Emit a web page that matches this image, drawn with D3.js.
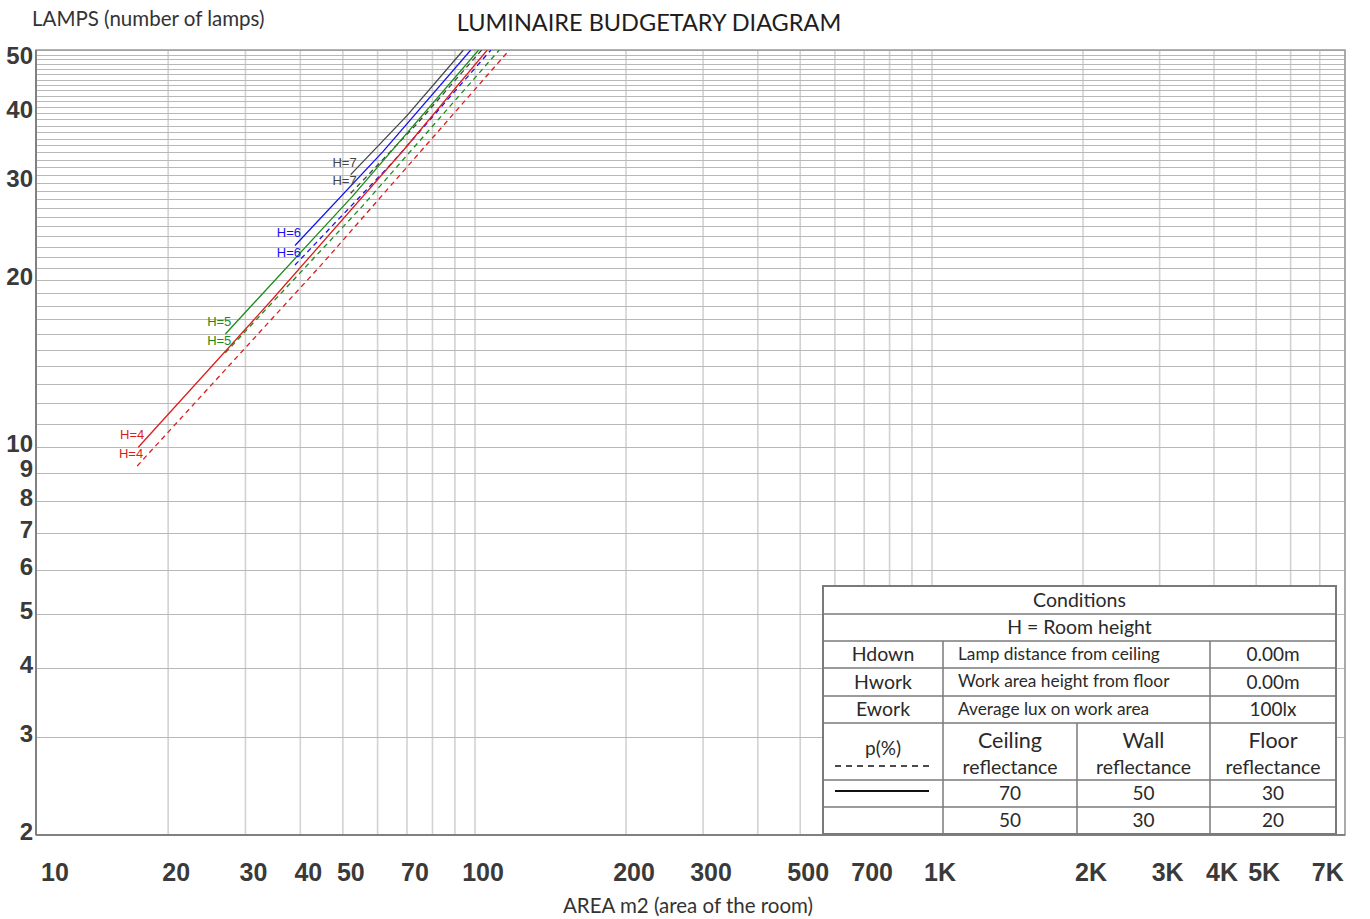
<!DOCTYPE html>
<html>
<head>
<meta charset="utf-8">
<script src="https://cdn.jsdelivr.net/npm/d3@7"></script>
<style>
  body { margin: 0; background: #fff; }
  svg { display: block; }
</style>
</head>
<body>
<div id="chart"></div>
<script>
// --- data ---
const roomHeights = ["H=7", "H=6", "H=5", "H=4"];

// solid = reflectance 70/50/30, dashed = 50/30/20 (area m2, lamps)
const areaSolid = [[52.1, 70.0, 94.1], [38.9, 61.7, 97.8], [27.0, 52.5, 101.7], [17.1, 34.4, 68.7, 105.8]];
const lampsSolid = [[31.0, 39.6, 52], [23.1, 34.1, 52], [16.0, 28.3, 52], [10.0, 18.4, 34.3, 52]];
const areaDashed = [[52.1, 73.6, 103.1], [38.9, 65.1, 107.6], [27.0, 55.4, 111.8], [17.0, 45.1, 117.1]];
const lampsDashed = [[28.7, 38.2, 52], [21.3, 32.7, 52], [14.8, 27.2, 52], [9.25, 21.5, 52]];

const lampTicks = [2, 3, 4, 5, 6, 7, 8, 9, 10, 20, 30, 40, 50];
const areaTicks = [10, 20, 30, 40, 50, 70, 100, 200, 300, 500, 700, 1000, 2000, 3000, 4000, 5000, 7000];
const areaTickText = ["10", "20", "30", "40", "50", "70", "100", "200", "300", "500", "700", "1K", "2K", "3K", "4K", "5K", "7K"];

const conditionRows = [
  ["Hdown", "Lamp distance from ceiling", "0.00m"],
  ["Hwork", "Work area height from floor", "0.00m"],
  ["Ework", "Average lux on work area", "100lx"]
];
const reflHeaders = ["Ceiling", "Wall", "Floor"];
const reflSolid = [70, 50, 30];
const reflDashed = [50, 30, 20];

// --- styles ---
const colors = ["#444444", "#1414f0", "#1a8c1a", "#dd1c1c"];
const W = 1370, H = 919;
const plotL = 36, plotR = 1345, plotT = 50, plotB = 835;

const svg = d3.select("#chart").append("svg")
  .attr("width", W).attr("height", H)
  .style("font-family", "Lato, 'Open Sans', sans-serif");

const x = d3.scaleLog()
  .domain([10, 100, 200, 1000, 2000, 8000])
  .range([plotL, 475, 626, 932, 1083, plotR]);
const y = d3.scaleLog()
  .domain([2, 52])
  .range([plotB, plotT]);

// grid
const xGrid = d3.range(10, 100, 10).concat(d3.range(100, 1000, 100), d3.range(1000, 8001, 1000));
const yGrid = d3.range(2, 53);

svg.append("g").selectAll("line").data(xGrid).join("line")
  .attr("x1", d => x(d)).attr("x2", d => x(d))
  .attr("y1", plotT).attr("y2", plotB)
  .attr("stroke", "#d2d2d2").attr("stroke-width", 1.6);

svg.append("g").selectAll("line").data(yGrid).join("line")
  .attr("x1", plotL).attr("x2", plotR)
  .attr("y1", d => Math.round(y(d)) + 0.5).attr("y2", d => Math.round(y(d)) + 0.5)
  .attr("stroke", "#b8b8b8").attr("stroke-width", 1);

// frame
svg.append("rect")
  .attr("x", plotL).attr("y", plotT)
  .attr("width", plotR - plotL).attr("height", plotB - plotT)
  .attr("fill", "none").attr("stroke", "#9a9a9a").attr("stroke-width", 1.5);
svg.append("line")
  .attr("x1", plotL).attr("x2", plotL).attr("y1", plotT).attr("y2", plotB)
  .attr("stroke", "#808080").attr("stroke-width", 2);
svg.append("line")
  .attr("x1", plotL).attr("x2", plotR).attr("y1", plotB).attr("y2", plotB)
  .attr("stroke", "#808080").attr("stroke-width", 2);

// y tick labels
svg.append("g").selectAll("text").data(lampTicks).join("text")
  .attr("x", 33).attr("y", d => y(d))
  .attr("dy", "0.2em")
  .attr("text-anchor", "end")
  .style("font-family", "'Liberation Sans', Arial, sans-serif")
  .style("font-weight", "bold").style("font-size", "24px")
  .attr("fill", "#3a3a3a")
  .text(d => d);

// x tick labels
svg.append("g").selectAll("text").data(areaTicks).join("text")
  .attr("x", d => Math.max(x(d) + 8, 55)).attr("y", 881)
  .attr("text-anchor", "middle")
  .style("font-family", "'Liberation Sans Narrow', 'Liberation Sans', Arial, sans-serif")
  .style("font-stretch", "condensed")
  .style("font-weight", "bold").style("font-size", "25px")
  .attr("fill", "#3a3a3a")
  .text((d, i) => areaTickText[i]);

// titles
svg.append("text").attr("x", 649).attr("y", 31)
  .attr("text-anchor", "middle").style("font-size", "23.5px").attr("fill", "#1e1e1e")
  .text("LUMINAIRE BUDGETARY DIAGRAM");
svg.append("text").attr("x", 32).attr("y", 26)
  .style("font-size", "20.5px").attr("fill", "#333")
  .text("LAMPS (number of lamps)");
svg.append("text").attr("x", 688).attr("y", 913)
  .attr("text-anchor", "middle").style("font-size", "20.5px").attr("fill", "#333")
  .text("AREA m2 (area of the room)");

// curves
svg.append("clipPath").attr("id", "plot")
  .append("rect").attr("x", plotL).attr("y", plotT)
  .attr("width", plotR - plotL).attr("height", plotB - plotT);

const line = d3.line().x(d => x(d[0])).y(d => y(d[1]));
const curves = svg.append("g").attr("clip-path", "url(#plot)");

roomHeights.forEach((h, i) => {
  const solid = d3.zip(areaSolid[i], lampsSolid[i]);
  const dashed = d3.zip(areaDashed[i], lampsDashed[i]);
  curves.append("path").attr("d", line(dashed))
    .attr("fill", "none").attr("stroke", colors[i]).attr("stroke-width", 1.3)
    .attr("stroke-dasharray", "5,4");
  curves.append("path").attr("d", line(solid))
    .attr("fill", "none").attr("stroke", colors[i]).attr("stroke-width", 1.3);

  [solid[0], dashed[0]].forEach(p => {
    svg.append("text")
      .attr("x", x(p[0]) + 6).attr("y", y(p[1]) - 8)
      .attr("text-anchor", "end")
      .style("font-family", "'Liberation Sans', Arial, sans-serif")
      .style("font-size", "13px")
      .attr("fill", colors[i])
      .text(h);
  });
});

// conditions table
const colX = [823, 943, 1077, 1210, 1336];
const rowY = [586, 614, 641, 668, 696, 723, 780, 807, 834];
const tbl = svg.append("g");
const stroke = "#7a7a7a";

tbl.append("rect")
  .attr("x", colX[0]).attr("y", rowY[0])
  .attr("width", colX[4] - colX[0]).attr("height", rowY[8] - rowY[0])
  .attr("fill", "#fff").attr("stroke", stroke).attr("stroke-width", 2);

rowY.slice(1, 8).forEach(ry => {
  tbl.append("line").attr("x1", colX[0]).attr("x2", colX[4])
    .attr("y1", ry).attr("y2", ry).attr("stroke", stroke).attr("stroke-width", 1.5);
});
[colX[1], colX[3]].forEach(cx => {
  tbl.append("line").attr("x1", cx).attr("x2", cx)
    .attr("y1", rowY[2]).attr("y2", rowY[8]).attr("stroke", stroke).attr("stroke-width", 1.5);
});
tbl.append("line").attr("x1", colX[2]).attr("x2", colX[2])
  .attr("y1", rowY[5]).attr("y2", rowY[8]).attr("stroke", stroke).attr("stroke-width", 1.5);

function cell(tx, ty, str, size, anchor) {
  tbl.append("text").attr("x", tx).attr("y", ty).attr("dy", "0.35em")
    .attr("text-anchor", anchor || "middle")
    .style("font-size", size + "px").attr("fill", "#2a2a2a")
    .text(str);
}
const midX = (a, b) => (colX[a] + colX[b]) / 2;
const midY = (a, b) => (rowY[a] + rowY[b]) / 2;

cell(midX(0, 4), midY(0, 1), "Conditions", 19.5);
cell(midX(0, 4), midY(1, 2), "H = Room height", 19.5);
conditionRows.forEach((r, i) => {
  cell(midX(0, 1), midY(2 + i, 3 + i), r[0], 19.5);
  cell(colX[1] + 15, midY(2 + i, 3 + i) - 1, r[1], 17.3, "start");
  cell(midX(3, 4), midY(2 + i, 3 + i), r[2], 19);
});
cell(midX(0, 1), rowY[5] + 25, "p(%)", 19);
tbl.append("line").attr("x1", colX[0] + 12).attr("x2", colX[1] - 14)
  .attr("y1", rowY[5] + 43).attr("y2", rowY[5] + 43)
  .attr("stroke", "#111").attr("stroke-width", 1.5).attr("stroke-dasharray", "6,5");
tbl.append("line").attr("x1", colX[0] + 12).attr("x2", colX[1] - 14)
  .attr("y1", rowY[6] + 11).attr("y2", rowY[6] + 11)
  .attr("stroke", "#111").attr("stroke-width", 2);
reflHeaders.forEach((hd, i) => {
  cell(midX(1 + i, 2 + i), rowY[5] + 17, hd, 21.5);
  cell(midX(1 + i, 2 + i), rowY[5] + 44, "reflectance", 19.5);
  cell(midX(1 + i, 2 + i), midY(6, 7), reflSolid[i], 19);
  cell(midX(1 + i, 2 + i), midY(7, 8), reflDashed[i], 19);
});
</script>
</body>
</html>
